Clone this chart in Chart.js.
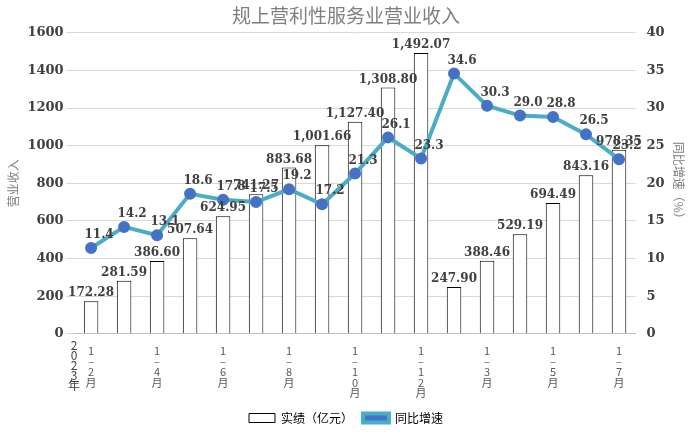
<!DOCTYPE html>
<html><head><meta charset="utf-8">
<script src="https://cdn.jsdelivr.net/npm/chart.js@4"></script>
<style>body{margin:0;background:#fff}#wrap{width:692px;height:434px}</style>
</head><body><div id="wrap"><canvas id="c"></canvas></div>
<script>
const months = ['1-2月','1-3月','1-4月','1-5月','1-6月','1-7月','1-8月','1-9月','1-10月','1-11月','1-12月','1-2月','1-3月','1-4月','1-5月','1-6月','1-7月'];
const shownTicks = [0,2,4,6,8,10,12,14,16];
const revenue = [172.28,281.59,386.60,507.64,624.95,741.27,883.68,1001.66,1127.40,1308.80,1492.07,247.90,388.46,529.19,694.49,843.16,978.35];
const growth = [11.4,14.2,13.1,18.6,17.8,17.5,19.2,17.2,21.3,26.1,23.3,34.6,30.3,29.0,28.8,26.5,23.2];

const font = "'DejaVu Serif', 'Liberation Serif', serif";
const cjk = "'Noto Sans CJK SC', sans-serif";

// value labels and the year label
const labelPlugin = {
  id: 'labels',
  afterDatasetsDraw(chart) {
    const ctx = chart.ctx;
    ctx.save();
    ctx.font = "bold 12px " + font;
    ctx.fillStyle = '#404040';
    ctx.textAlign = 'center';
    ctx.textBaseline = 'bottom';
    chart.getDatasetMeta(1).data.forEach((b, i) => {
      ctx.fillText(revenue[i].toFixed(2).replace(/\B(?=(\d{3})+(?!\d))/g, ','), b.x, b.y - 2);
    });
    chart.getDatasetMeta(0).data.forEach((p, i) => {
      ctx.fillText(growth[i].toFixed(1), p.x + 8, p.y - 7);
    });
    const x = chart.scales.x.getPixelForValue(0) - 17;
    ctx.font = "12px " + cjk;
    ctx.textBaseline = 'top';
    let y = chart.scales.x.top + 6;
    ['2','0','2','3','年'].forEach(ch => { ctx.fillText(ch, x, y); y += 10; });
    ctx.restore();
  }
};

new Chart(document.getElementById('c'), {
  data: {
    labels: months,
    datasets: [
      { type: 'line', label: '同比增速', data: growth, yAxisID: 'y2', order: 0,
        borderColor: '#4bacc6', borderWidth: 4, pointBackgroundColor: '#4472c4',
        pointBorderColor: '#4472c4', pointRadius: 4, tension: 0 },
      { type: 'bar', label: '实绩（亿元）', data: revenue, yAxisID: 'y', order: 1,
        backgroundColor: '#fff', borderColor: '#000', borderWidth: 1,
        categoryPercentage: 0.8, barPercentage: 0.55 }
    ]
  },
  options: {
    responsive: true, maintainAspectRatio: false, animation: false,
    layout: { padding: { left: 2, right: 2, top: 4, bottom: 0 } },
    plugins: {
      title: { display: true, text: '规上营利性服务业营业收入', color: '#7f7f7f',
        font: { family: cjk, size: 19, weight: 'normal' }, padding: { top: 0, bottom: 6 } },
      legend: { position: 'bottom', labels: { color: '#7f7f7f', boxWidth: 26, boxHeight: 9,
        font: { family: cjk, size: 12 },
        generateLabels(chart) {
          return [
            { text: '实绩（亿元）', fillStyle: '#fff', strokeStyle: '#000', lineWidth: 1, datasetIndex: 1 },
            { text: '同比增速', fillStyle: '#4472c4', strokeStyle: '#4bacc6', lineWidth: 4, datasetIndex: 0 }
          ];
        } } },
      tooltip: { enabled: false }
    },
    scales: {
      x: { grid: { display: false }, border: { color: '#bfbfbf' },
        ticks: { autoSkip: false, maxRotation: 0, color: '#595959', padding: 4,
          font: { family: cjk, size: 11, lineHeight: 0.95 },
          callback: (v, i) => shownTicks.includes(i) ? Array.from(months[i].replace('-', '–')) : '' } },
      y: { min: 0, max: 1600, position: 'left',
        ticks: { stepSize: 200, color: '#404040', font: { family: font, size: 13, weight: 'bold' },
          callback: v => String(v) },
        grid: { color: '#d9d9d9' }, border: { display: false },
        title: { display: true, text: '营业收入', color: '#7f7f7f', font: { family: cjk, size: 12 } } },
      y2: { min: 0, max: 40, position: 'right',
        ticks: { stepSize: 5, color: '#404040', font: { family: font, size: 13, weight: 'bold' } },
        grid: { display: false }, border: { display: false },
        title: { display: true, text: '同比增速（%）', color: '#7f7f7f', font: { family: cjk, size: 12 } } }
    }
  },
  plugins: [labelPlugin]
});
</script></body></html>
